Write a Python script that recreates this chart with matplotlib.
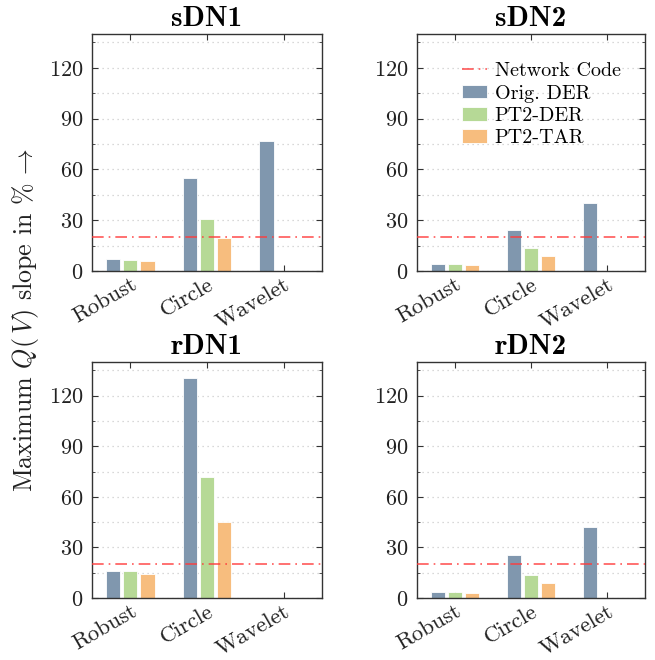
import matplotlib
matplotlib.use("Agg")
import matplotlib.pyplot as plt
import numpy as np
from matplotlib.ticker import MultipleLocator

plt.rcParams['font.family'] = ['cmr10']
plt.rcParams['mathtext.fontset'] = 'cm'
plt.rcParams['axes.formatter.use_mathtext'] = True
plt.rcParams['axes.unicode_minus'] = False

categories = ["Robust", "Circle", "Wavelet"]
series = ["Orig. DER", "PT2-DER", "PT2-TAR"]
panels = ["sDN1", "sDN2", "rDN1", "rDN2"]

sDN1 = {"Orig. DER": [6.9, 55.0, 77.0], "PT2-DER": [6.7, 30.9, 0.0], "PT2-TAR": [5.7, 19.2, 0.0]}
sDN2 = {"Orig. DER": [4.2, 24.4, 40.0], "PT2-DER": [4.2, 13.7, 0.0], "PT2-TAR": [3.6, 8.7, 0.0]}
rDN1 = {"Orig. DER": [15.8, 130.8, 0.0], "PT2-DER": [15.8, 71.9, 0.0], "PT2-TAR": [14.2, 45.0, 0.0]}
rDN2 = {"Orig. DER": [3.4, 25.3, 41.9], "PT2-DER": [3.4, 13.6, 0.0], "PT2-TAR": [3.2, 8.9, 0.0]}
data = [sDN1, sDN2, rDN1, rDN2]
network_code = 20

colors = {"Orig. DER": "#8097ae", "PT2-DER": "#b6d996", "PT2-TAR": "#f7bd7e"}

fig = plt.figure(figsize=(6.55, 6.6), dpi=100)
W, H = 655, 660
boxes = [(92, 34, 322, 271), (417, 34, 645, 271), (92, 362, 322, 598), (417, 362, 645, 598)]

x = np.arange(len(categories))
offs = [-0.225, 0.0, 0.225]
bw = 0.185

for i, (name, d, (l, t, r, b)) in enumerate(zip(panels, data, boxes)):
    ax = fig.add_axes([l / W, 1 - b / H, (r - l) / W, (b - t) / H])
    for j, s in enumerate(series):
        ax.bar(x + offs[j], d[s], width=bw, color=colors[s], edgecolor="white",
               linewidth=0.6, label=s, zorder=2)
    ax.axhline(network_code, color="#ff3b3b", linestyle=(0, (7, 3, 1, 3)), lw=1.2,
               alpha=0.85, zorder=3, label="Network Code")
    ax.set_xlim(-0.5, 2.5)
    ax.set_ylim(0, 140)
    ax.yaxis.set_major_locator(MultipleLocator(30))
    ax.yaxis.set_minor_locator(MultipleLocator(15))
    ax.set_xticks(x)
    ax.set_xticklabels(categories, rotation=30, ha="right", va="top", rotation_mode="anchor")
    ax.tick_params(axis="both", which="both", direction="in", top=True, right=True,
                   colors="#333333", labelcolor="#222222")
    ax.tick_params(axis="y", which="major", labelsize=16, pad=6)
    ax.tick_params(axis="x", which="major", labelsize=16.3, pad=2.5)
    ax.tick_params(axis="both", which="major", length=4)
    ax.tick_params(axis="both", which="minor", length=2.5)
    ax.grid(axis="y", which="both", color="#cccccc", linestyle=(0, (1, 3)), lw=0.9, zorder=0)
    ax.set_axisbelow(True)
    for sp in ax.spines.values():
        sp.set_color("#333333")
        sp.set_linewidth(1.0)
    ax.set_title(name, family="cmb10", fontsize=21, pad=6)
    if i == 1:
        handles, labels = ax.get_legend_handles_labels()
        order = [labels.index(k) for k in ["Network Code", "Orig. DER", "PT2-DER", "PT2-TAR"]]
        ax.legend([handles[k] for k in order], [labels[k] for k in order],
                  loc="upper left", bbox_to_anchor=(0.16, 0.915), frameon=False,
                  fontsize=14.5, handlelength=1.25, handleheight=0.65, handletextpad=0.4,
                  labelspacing=0.22, borderaxespad=0)

fig.text(26 / W, 0.515, r"Maximum $Q(\,V)$ slope in %$\,\rightarrow$", rotation=90,
         va="center", ha="center", fontsize=18.7, color="#222222")

fig.savefig("out.png", dpi=100)
